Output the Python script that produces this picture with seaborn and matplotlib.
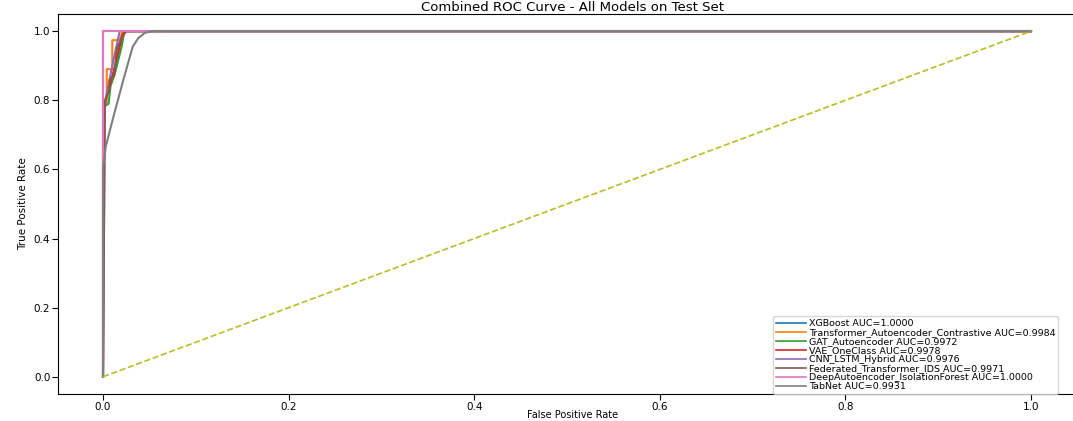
import matplotlib
matplotlib.use("Agg")
import matplotlib.pyplot as plt
import seaborn as sns
import pandas as pd

# ROC points (false positive rate, true positive rate) per model
models = [
    "XGBoost",
    "Transformer_Autoencoder_Contrastive",
    "GAT_Autoencoder",
    "VAE_OneClass",
    "CNN_LSTM_Hybrid",
    "Federated_Transformer_IDS",
    "DeepAutoencoder_IsolationForest",
    "TabNet",
]
auc_scores = [1.0000, 0.9984, 0.9972, 0.9978, 0.9976, 0.9971, 1.0000, 0.9931]

fpr_xgb = [0.0, 0.0, 1.0]
tpr_xgb = [0.0, 1.0, 1.0]

fpr_tac = [0.0, 0.0, 0.004, 0.004, 0.010, 0.010, 0.018, 0.021, 1.0]
tpr_tac = [0.0, 0.78, 0.79, 0.89, 0.89, 0.974, 0.974, 1.0, 1.0]

fpr_gat = [0.0, 0.0, 0.006, 0.008, 0.013, 0.020, 0.023, 1.0]
tpr_gat = [0.0, 0.78, 0.79, 0.84, 0.88, 0.955, 1.0, 1.0]

fpr_vae = [0.0, 0.001, 0.012, 0.021, 0.024, 1.0]
tpr_vae = [0.0, 0.78, 0.89, 0.99, 1.0, 1.0]

fpr_cnn = [0.0, 0.002, 0.010, 0.018, 1.0]
tpr_cnn = [0.0, 0.79, 0.90, 1.0, 1.0]

fpr_fed = [0.0, 0.002, 0.007, 0.007, 0.012, 0.015, 0.020, 0.025, 1.0]
tpr_fed = [0.0, 0.80, 0.83, 0.86, 0.87, 0.95, 0.98, 1.0, 1.0]

fpr_dae = [0.0, 0.0, 1.0]
tpr_dae = [0.0, 1.0, 1.0]

fpr_tab = [0.0, 0.0, 0.003, 0.011, 0.022, 0.032, 0.038, 0.045, 0.053, 1.0]
tpr_tab = [0.0, 0.60, 0.667, 0.75, 0.86, 0.955, 0.98, 0.995, 1.0, 1.0]

fprs = [fpr_xgb, fpr_tac, fpr_gat, fpr_vae, fpr_cnn, fpr_fed, fpr_dae, fpr_tab]
tprs = [tpr_xgb, tpr_tac, tpr_gat, tpr_vae, tpr_cnn, tpr_fed, tpr_dae, tpr_tab]

rows = []
for name, auc, fx, ty in zip(models, auc_scores, fprs, tprs):
    label = f"{name} AUC={auc:.4f}"
    for f, t in zip(fx, ty):
        rows.append({"fpr": f, "tpr": t, "model": label})
df = pd.DataFrame(rows)
labels = [f"{n} AUC={a:.4f}" for n, a in zip(models, auc_scores)]

fig = plt.figure(figsize=(10.73, 4.21), dpi=100)
ax = fig.add_axes([58 / 1073, 0.064, 0.9587, 0.903])

sns.lineplot(
    data=df, x="fpr", y="tpr", hue="model", hue_order=labels,
    palette=sns.color_palette("tab10", 8), estimator=None, sort=False,
    linewidth=1.5, ax=ax,
)
ax.plot([0, 1], [0, 1], linestyle="--", color="#bcbd22", linewidth=1.2)
ax.set_xlim(-0.0485, 1.06)
ax.set_ylim(-0.05, 1.05)

ax.set_title("Combined ROC Curve - All Models on Test Set", fontsize=9.5, pad=1)
ax.set_xlabel("False Positive Rate", fontsize=7, labelpad=-1)
ax.set_ylabel("True Positive Rate", fontsize=7.5, labelpad=4)
ax.tick_params(labelsize=7.5, length=4, pad=1.5)

ax.legend(
    loc="lower left", bbox_to_anchor=(773 / 1073, 27 / 421),
    bbox_transform=fig.transFigure, borderaxespad=0,
    fontsize=6.8, labelspacing=0.0, handlelength=3.2, handletextpad=0.3,
    borderpad=0.3, framealpha=0.8, title=None,
)
for line in ax.get_legend().get_lines():
    line.set_linewidth(1.2)

fig.savefig("out.png", dpi=100)
